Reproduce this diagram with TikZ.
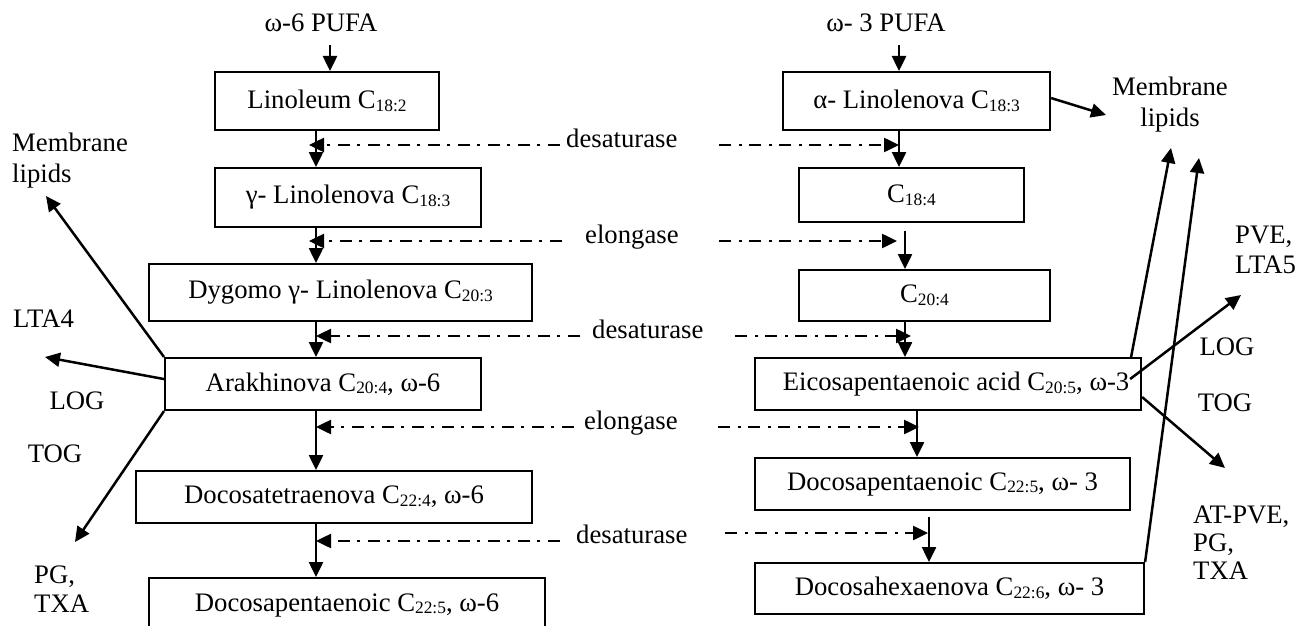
\documentclass[tikz,border=0pt]{standalone}
\usepackage{fontspec}
\setmainfont{Liberation Serif}
\usetikzlibrary{arrows.meta}
\newcommand{\sbs}[1]{\raisebox{-0.1em}{\fontsize{17.4}{17.4}\selectfont #1}}
\begin{document}
\begin{tikzpicture}[x=1pt,y=-1pt,
  every node/.style={font=\fontsize{26.7}{30}\selectfont},
  box/.style={draw, line width=2.1pt, inner sep=0pt, anchor=north west},
  lbl/.style={inner sep=0pt, text height=0.68em, text depth=0.22em},
  multi/.style={inner sep=0pt},
  tip/.style={-{Triangle[length=15pt,width=14pt]}},
  conn/.style={line width=2.5pt, tip},
  enz/.style={line width=2.5pt, dash pattern=on 12pt off 8pt on 3pt off 7pt, tip},
]
\useasboundingbox[fill=white] (0,0) rectangle (1299,626);

% column reference lines
\coordinate (ax) at (316,0);
\coordinate (r1) at (899,0);
\coordinate (r2) at (905,0);
\coordinate (r4) at (917,0);
\coordinate (r5) at (929,0);

% PUFA labels
\node[lbl] (p6) at (321,29) {ω-6 PUFA};
\node[lbl] (p3) at (886,29) {ω- 3 PUFA};
\coordinate (p6s) at (330,45);
\coordinate (p3s) at (899,45);

% left column boxes
\node[box, minimum width=224pt, minimum height=58pt] (b1) at (214,71) {Linoleum C\sbs{18:2}\hspace{24pt}};
\node[box, minimum width=266pt, minimum height=59pt] (b2) at (214,167) {γ- Linolenova C\sbs{18:3}\hspace{22pt}};
\node[box, minimum width=383pt, minimum height=57pt] (b3) at (148,263) {Dygomo γ- Linolenova C\sbs{20:3}\hspace{38pt}};
\node[box, minimum width=316pt, minimum height=52pt] (b4) at (164,357) {Arakhinova C\sbs{20:4}, ω-6};
\node[box, minimum width=396pt, minimum height=52pt] (b5) at (135,470) {Docosatetraenova C\sbs{22:4}, ω-6};
\node[box, minimum width=396pt, minimum height=54pt] (b6) at (148,577) {Docosapentaenoic C\sbs{22:5}, ω-6};

% right column boxes
\node[box, minimum width=267pt, minimum height=58pt] (c1) at (782,71) {α- Linolenova C\sbs{18:3}\hspace{18pt}};
\node[box, minimum width=225pt, minimum height=54pt] (c2) at (798,167) {C\sbs{18:4}};
\node[box, minimum width=251pt, minimum height=51pt] (c3) at (798,269) {C\sbs{20:4}};
\node[box, minimum width=386pt, minimum height=52pt] (c4) at (754,357) {\hspace{16pt}Eicosapentaenoic acid C\sbs{20:5}, ω-3};
\node[box, minimum width=375pt, minimum height=52pt] (c5) at (754,457) {Docosapentaenoic C\sbs{22:5}, ω- 3\hspace{22pt}};
\node[box, minimum width=389pt, minimum height=51pt] (c6) at (754,562) {Docosahexaenova C\sbs{22:6}, ω- 3\hspace{38pt}};

% enzyme labels
\node[lbl, anchor=west] (e1) at (566,145) {desaturase};
\node[lbl, anchor=west] (e2) at (585,241) {elongase};
\node[lbl, anchor=west] (e3) at (592,336) {desaturase};
\node[lbl, anchor=west] (e4) at (584,427) {elongase};
\node[lbl, anchor=west] (e5) at (576,541) {desaturase};

% side labels left
\node[multi, align=left, anchor=west, font=\fontsize{26.7}{31}\selectfont] (mlL) at (12,161) {Membrane\\lipids};
\node[lbl, anchor=west] (lta4) at (13,325) {LTA4};
\node[lbl] (logL) at (77,407) {LOG};
\node[lbl] (togL) at (55,460) {TOG};
\node[multi, align=left, anchor=west, font=\fontsize{26.7}{29}\selectfont] (pgL) at (34,589) {PG,\\TXA};

% side labels right
\node[multi, align=center, font=\fontsize{26.7}{31}\selectfont] (mlR) at (1170,105) {Membrane\\lipids};
\node[multi, align=left, anchor=west, font=\fontsize{26.7}{30}\selectfont] (pve) at (1235,250) {PVE,\\LTA5};
\node[lbl] (logR) at (1227,353) {LOG};
\node[lbl] (togR) at (1225,409) {TOG};
\node[multi, align=left, anchor=west, font=\fontsize{26.7}{28}\selectfont] (atp) at (1193,543) {AT-PVE,\\PG,\\TXA};

% PUFA arrows
\draw[conn] (p6s) -- (p6s |- b1.north);
\draw[conn] (p3s) -- (p3s |- c1.north);

% left chain
\draw[conn] (ax |- b1.south) -- (ax |- b2.north);
\draw[conn] (ax |- b2.south) -- (ax |- b3.north);
\draw[conn] (ax |- b3.south) -- (ax |- b4.north);
\draw[conn] (ax |- b4.south) -- (ax |- b5.north);
\draw[conn] (ax |- b5.south) -- (ax |- b6.north);

% right chain
\coordinate (v2s) at (905,231);
\coordinate (v5s) at (929,517);
\draw[conn] (r1 |- c1.south) -- (r1 |- c2.north);
\draw[conn] (v2s) -- (v2s |- c3.north);
\draw[conn] (r2 |- c3.south) -- (r2 |- c4.north);
\draw[conn] (r4 |- c4.south) -- (r4 |- c5.north);
\draw[conn] (v5s) -- (v5s |- c6.north);

% enzyme dash-dot arrows, left
\coordinate (l1) at (560,145);
\coordinate (l2) at (562,241);
\coordinate (l3) at (580,336);
\coordinate (l4) at (574,427);
\coordinate (l5) at (560,541);
\draw[enz] (l1) -- (309,145);
\draw[enz] (l2) -- (309,241);
\draw[enz] (l3) -- (ax |- l3);
\draw[enz] (l4) -- (ax |- l4);
\draw[enz] (l5) -- (ax |- l5);

% enzyme dash-dot arrows, right
\coordinate (s1) at (719,145);
\coordinate (s2) at (719,241);
\coordinate (s3) at (735,336);
\coordinate (s4) at (718,427);
\coordinate (s5) at (725,533);
\draw[enz] (s1) -- (r1 |- s1);
\draw[enz] (s2) -- (897,241);
\draw[enz] (s3) -- (911,336);
\draw[enz] (s4) -- (919,427);
\draw[enz] (s5) -- (928,533);

% left side product arrows
\coordinate (tmlL) at (46,196);
\coordinate (tlta) at (45,357);
\coordinate (tpgL) at (75,542);
\draw[conn] (b4.north west) -- (tmlL);
\draw[conn] ([yshift=5pt]b4.west) -- (tlta);
\draw[conn] (b4.south west) -- (tpgL);

% right side product arrows
\coordinate (tmr0) at (1106,115);
\coordinate (tmr1) at (1171,148);
\coordinate (tmr2) at (1199,158);
\coordinate (tpve) at (1241,295);
\coordinate (ttog) at (1225,468);
\draw[conn] ([yshift=3pt]c1.east) -- (tmr0);
\draw[conn] ([xshift=-11pt]c4.north east) -- (tmr1);
\draw[conn] (c6.north east) -- (tmr2);
\draw[conn] ([xshift=-12pt,yshift=5pt]c4.east) -- (tpve);
\draw[conn] ([yshift=-13pt]c4.east) -- (ttog);
\end{tikzpicture}
\end{document}
